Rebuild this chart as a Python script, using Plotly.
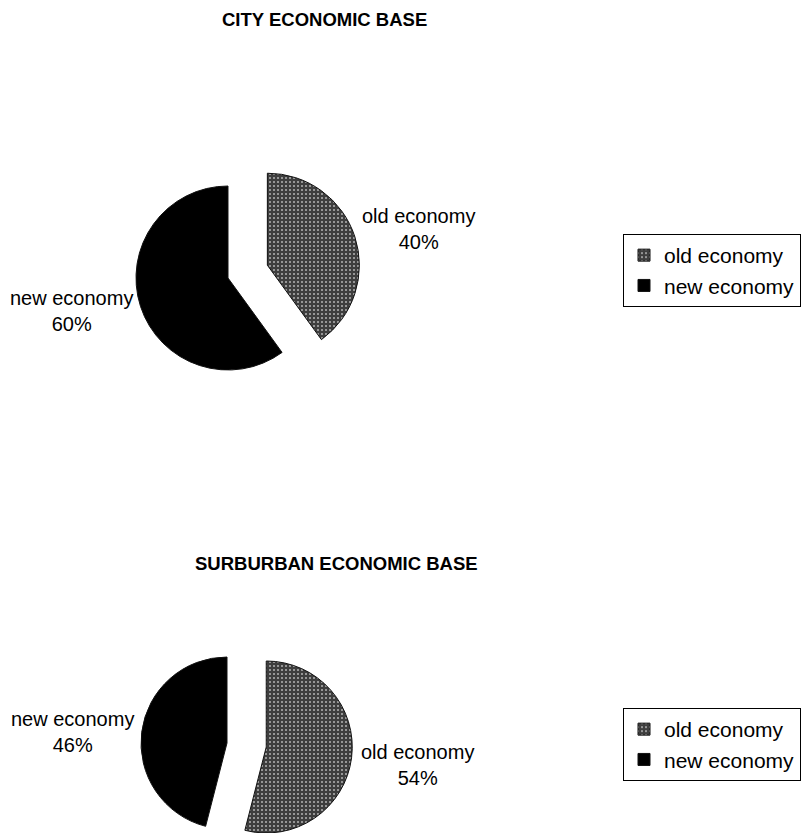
import math
import plotly.graph_objects as go

# ---- data ----
categories = ["old economy", "new economy"]
city_share = [40, 60]
suburb_share = [54, 46]
chart_titles = ["CITY ECONOMIC BASE", "SURBURBAN ECONOMIC BASE"]

# ---- page geometry (pixels) ----
W, H = 801, 833
FONT = "Liberation Sans, Arial, sans-serif"
OLD_FILL = "#3e3e3e"
NEW_FILL = "#000000"
CLEAR = "rgba(0,0,0,0)"


def px_x(x):
    return x / W


def px_y(y):
    return 1 - y / H


def square_domain(cx, cy, half):
    return dict(x=[px_x(cx - half), px_x(cx + half)],
                y=[px_y(cy + half), px_y(cy - half)])


def pattern(fills):
    return dict(shape=["." if f == OLD_FILL else "" for f in fills],
                fgcolor="#b4b4b4", bgcolor=fills, size=4, solidity=0.2)


fig = go.Figure()

# City pie: old economy pulled out of a single pie
city_r, city_pull = 92, 0.45
city_cx, city_cy = 228, 278
fig.add_trace(go.Pie(
    labels=categories, values=city_share, sort=False, direction="clockwise",
    rotation=0, pull=[city_pull, 0], textinfo="none", hoverinfo="label+percent",
    marker=dict(colors=[OLD_FILL, NEW_FILL], pattern=pattern([OLD_FILL, NEW_FILL]),
                line=dict(color="#111111", width=1)),
    domain=square_domain(city_cx, city_cy, city_r * (1 + city_pull)),
    legend="legend", legendgroup="city", showlegend=True,
))

# Suburban pie: each slice drawn separately so the exploded slice can sit
# close to the bottom edge of the page
sub_r, sub_pull = 86, 0.46
sub_cx, sub_cy = 227, 743
mid = math.radians(360 * suburb_share[0] / sum(suburb_share) / 2)
off_x = sub_pull * sub_r * math.sin(mid)
off_y = -sub_pull * sub_r * math.cos(mid)

fig.add_trace(go.Pie(
    labels=categories, values=suburb_share, sort=False, direction="clockwise",
    rotation=0, textinfo="none", hoverinfo="skip",
    marker=dict(colors=[CLEAR, NEW_FILL], line=dict(color=[CLEAR, "#111111"], width=1)),
    domain=square_domain(sub_cx, sub_cy, sub_r),
    legendgroup="suburb_new", showlegend=False,
))
fig.add_trace(go.Pie(
    labels=categories, values=suburb_share, sort=False, direction="clockwise",
    rotation=0, textinfo="none", hoverinfo="label+percent",
    marker=dict(colors=[OLD_FILL, CLEAR], pattern=pattern([OLD_FILL, CLEAR]),
                line=dict(color=["#111111", CLEAR], width=1)),
    domain=square_domain(sub_cx + off_x, min(sub_cy + off_y, H - sub_r), sub_r),
    legendgroup="suburb_old", showlegend=False,
))
# legend entries for the suburban chart (sits beneath its legend box)
fig.add_trace(go.Pie(
    labels=categories, values=suburb_share, sort=False, direction="clockwise",
    textinfo="none", hoverinfo="skip",
    marker=dict(colors=[OLD_FILL, NEW_FILL], pattern=pattern([OLD_FILL, NEW_FILL]),
                line=dict(color="#111111", width=1)),
    domain=square_domain(725, 742, 8), legend="legend2", legendgroup="suburb",
    showlegend=True,
))

annotations = []
# chart titles
for text, (x, y) in zip(chart_titles, [(324, 20), (336, 563)]):
    annotations.append(dict(text=f"<b>{text}</b>", x=px_x(x), y=px_y(y),
                            xref="paper", yref="paper", showarrow=False,
                            xanchor="center", yanchor="middle",
                            font=dict(size=18.5, color="#000", family=FONT)))
# slice labels
label_pos = [
    (city_share, {0: (418, 229), 1: (71, 311)}),
    (suburb_share, {0: (417, 765), 1: (72, 732)}),
]
for shares, pos in label_pos:
    total = sum(shares)
    for i, name in enumerate(categories):
        x, y = pos[i]
        pct = round(100 * shares[i] / total)
        annotations.append(dict(text=f"{name}<br>{pct}%", x=px_x(x), y=px_y(y),
                                xref="paper", yref="paper", showarrow=False,
                                xanchor="center", yanchor="middle", align="center",
                                font=dict(size=20, color="#000", family=FONT)))

legend_style = dict(xanchor="right", yanchor="top", bgcolor="#ffffff",
                    bordercolor="#000000", borderwidth=1,
                    font=dict(size=21, color="#000", family=FONT),
                    itemclick=False, itemdoubleclick=False)

fig.update_layout(
    width=W, height=H, margin=dict(l=0, r=0, t=0, b=0),
    paper_bgcolor="#ffffff", plot_bgcolor="#ffffff",
    annotations=annotations,
    legend=dict(x=1, y=px_y(234), **legend_style),
    legend2=dict(x=1, y=px_y(708), **legend_style),
)

fig.write_html("out.html")
